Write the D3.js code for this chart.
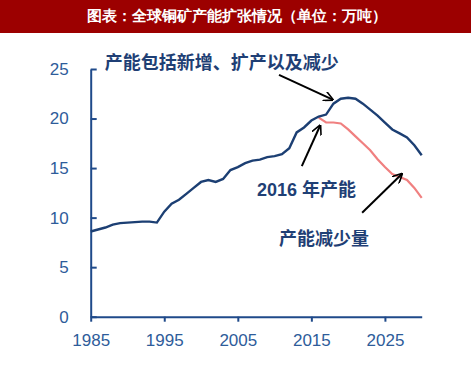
<!DOCTYPE html>
<meta charset="utf-8">
<script src="https://d3js.org/d3.v7.min.js"></script>
<style>
  body { margin: 0; background: #fff; }
  svg text { font-family: "Liberation Sans", Arial, sans-serif; }
</style>
<div id="vis"></div>
<script>

// global copper mine capacity (unit: 10k tonnes? as labelled)
var years = d3.range(1985, 2031)
var capacity = [8.6, 8.8, 9.0, 9.3, 9.45, 9.5, 9.55, 9.6, 9.6, 9.5,
                10.6, 11.4, 11.8, 12.4, 13.0, 13.6, 13.8, 13.6, 13.9, 14.8,
                15.1, 15.5, 15.75, 15.85, 16.1, 16.2, 16.4, 17.0, 18.6, 19.1,
                19.8, 20.2, 20.4, 21.5, 22.0, 22.1, 22.0, 21.5, 20.9, 20.3,
                19.6, 18.9, 18.5, 18.1, 17.3, 16.3]
var cutYears = d3.range(2016, 2031)
var cutCapacity = [20.1, 19.6, 19.6, 19.5, 18.9, 18.2, 17.5, 16.8, 15.9, 15.1,
                   14.4, 14.1, 13.8, 13.0, 12.0]
var xTicks = [1985, 1995, 2005, 2015, 2025]
var yTicks = [0, 5, 10, 15, 20, 25]

var title = "图表：全球铜矿产能扩张情况（单位：万吨）"
var notes = [
  {text: "产能包括新增、扩产以及减少", x: 1986.9, y: 25.6, from: [2010.6, 24.4], to: [2017.9, 21.9]},
  {text: "2016 年产能", x: 2007.6, y: 12.8, from: [2013.7, 15.2], to: [2016.2, 19.3]},
  {text: "产能减少量", x: 2010.6, y: 7.9, from: [2021.9, 10.5], to: [2027.3, 14.4]}
]

var width = 471
    height = 371

var svg = d3.select("#vis")
  .append("svg")
    .attr("width", width)
    .attr("height", height)

// header band
svg.append("rect")
  .attr("x", 0).attr("y", 0)
  .attr("width", width).attr("height", 33)
  .attr("fill", "#9c0000")

svg.append("text")
  .attr("x", width / 2 + 1)
  .attr("y", 21)
  .attr("text-anchor", "middle")
  .attr("fill", "#fff")
  .style("font-weight", "bold")
  .style("font-size", "14.5px")
  .text(title)

var x = d3.scaleLinear().domain([1985, 2030]).range([90.7, 421.7])
var y = d3.scaleLinear().domain([0, 25]).range([316.7, 69])

var axisColor = "#1f4a8a"

var xAxis = svg.append("g")
  .attr("transform", "translate(0," + y(0) + ")")
  .call(d3.axisBottom(x).tickValues(xTicks).tickFormat(d3.format("d"))
    .tickSizeInner(5).tickSizeOuter(0).tickPadding(12))

var yAxis = svg.append("g")
  .attr("transform", "translate(" + x(1985) + ",0)")
  .call(d3.axisLeft(y).tickValues(yTicks)
    .tickSizeInner(-6).tickSizeOuter(0).tickPadding(22))

svg.selectAll(".domain").attr("stroke", axisColor).style("stroke-width", "2px")
svg.selectAll(".tick line").attr("stroke", axisColor).style("stroke-width", "2px")
svg.selectAll(".tick text")
  .attr("fill", "#2e5c9a")
  .style("font-size", "17px")
  .style("font-family", "'Liberation Sans', Arial, sans-serif")

var line = d3.line()
  .x(function(d) { return x(d[0]) })
  .y(function(d) { return y(d[1]) })

svg.append("path")
  .datum(d3.zip(cutYears, cutCapacity))
  .attr("fill", "none")
  .attr("stroke", "#f08080")
  .style("stroke-width", "2.2px")
  .attr("d", line)

svg.append("path")
  .datum(d3.zip(years, capacity))
  .attr("fill", "none")
  .attr("stroke", "#1c3f73")
  .style("stroke-width", "2.4px")
  .attr("d", line)

// arrows
svg.append("defs").append("marker")
  .attr("id", "head")
  .attr("viewBox", "0 0 10 10")
  .attr("refX", 9).attr("refY", 5)
  .attr("markerWidth", 5).attr("markerHeight", 5)
  .attr("markerUnits", "strokeWidth")
  .attr("orient", "auto")
  .append("path")
    .attr("d", "M0,0 L10,5 L0,10")
    .attr("fill", "none")
    .attr("stroke", "#000")
    .style("stroke-width", "1.6px")

svg.selectAll(".arrow")
  .data(notes)
  .enter()
  .append("line")
    .attr("class", "arrow")
    .attr("x1", function(d) { return x(d.from[0]) })
    .attr("y1", function(d) { return y(d.from[1]) })
    .attr("x2", function(d) { return x(d.to[0]) })
    .attr("y2", function(d) { return y(d.to[1]) })
    .attr("stroke", "#000")
    .style("stroke-width", "2px")
    .attr("marker-end", "url(#head)")

svg.selectAll(".note")
  .data(notes)
  .enter()
  .append("text")
    .attr("class", "note")
    .attr("x", function(d) { return x(d.x) })
    .attr("y", function(d) { return y(d.y) })
    .attr("dy", "0.35em")
    .attr("fill", "#1f3f75")
    .style("font-weight", "bold")
    .style("font-size", "18px")
    .style("font-family", "'Liberation Sans', 'Noto Sans CJK SC', sans-serif")
    .text(function(d) { return d.text })

</script>
